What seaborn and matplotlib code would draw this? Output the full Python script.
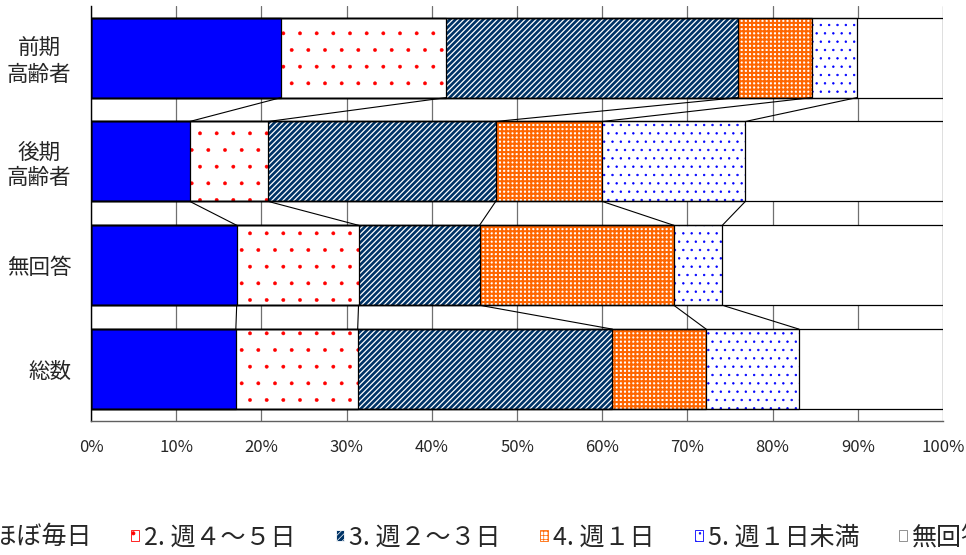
import numpy as np
import seaborn as sns
import matplotlib.pyplot as plt
from matplotlib.patches import Patch

# Datos (porcentaje por categoría)
categorias = ["前期\n高齢者", "後期\n高齢者", "無回答", "総数"]
s1 = [22.3, 11.6, 17.1, 17.0]   # 1. ほぼ毎日
s2 = [19.4, 9.2, 14.3, 14.3]    # 2. 週４～５日
s3 = [34.2, 26.7, 14.2, 29.9]   # 3. 週２～３日
s4 = [8.7, 12.5, 22.8, 11.0]    # 4. 週１日
s5 = [5.3, 16.8, 5.7, 10.9]     # 5. 週１日未満
s6 = [10.1, 23.2, 25.9, 16.9]   # 無回答
etiquetas = ["1. ほぼ毎日", "2. 週４～５日", "3. 週２～３日",
             "4. 週１日", "5. 週１日未満", "無回答"]
ticks_x = list(range(0, 101, 10))

series = [s1, s2, s3, s4, s5, s6]
cum = np.cumsum(np.array(series), axis=0)

# (relleno, color del patrón, patrón, grosor del patrón)
estilos = [("#0000FF", "#0000FF", None, 1.0),
           ("white", "#FF0000", ".", 0.3),
           ("#003366", "white", "//////", 0.9),
           ("white", "#FF6600", "++++", 1.5),
           ("white", "#0000FF", "..", 0.5),
           ("white", "white", None, 1.0)]

sns.set_style("white")
plt.rcParams["font.family"] = ["Noto Sans CJK JP", "DejaVu Sans"]

fig = plt.figure(figsize=(9.66, 5.55), dpi=100)
ax = fig.add_axes([0.0942, 0.2414, 0.882, 0.7483])
ancho = 0.77

# barras apiladas: se dibuja de la suma total hacia la primera serie
for k in range(5, -1, -1):
    face, hc, h, hlw = estilos[k]
    plt.rcParams["hatch.linewidth"] = hlw
    n_antes = len(ax.patches)
    sns.barplot(x=cum[k], y=categorias, orient="h", color=face, saturation=1,
                width=ancho, edgecolor=hc, linewidth=0, hatch=h, ax=ax)
    for p in ax.patches[n_antes:]:
        if hasattr(p, "set_hatch_linewidth"):
            p.set_hatch_linewidth(hlw)

# contornos negros de cada segmento
for k in range(6):
    sns.barplot(x=cum[k], y=categorias, orient="h", width=ancho,
                facecolor="none", edgecolor="black", linewidth=0.9, ax=ax)

# líneas de serie entre barras
for i in range(len(categorias) - 1):
    for k in range(5):
        ax.plot([cum[k][i], cum[k][i + 1]], [i + ancho / 2, i + 1 - ancho / 2],
                color="black", lw=0.8)

ax.set_xlim(0, 100)
ax.set_ylim(len(categorias) - 0.5, -0.5)
ax.set_xticks(ticks_x)
ax.set_xticklabels([f"{t}%" for t in ticks_x], fontsize=12)
ax.set_yticks(range(len(categorias)))
ax.set_yticklabels(categorias, fontsize=15.5, ha="right", multialignment="center")
ax.set_yticks(np.arange(-0.5, len(categorias), 1), minor=True)
ax.tick_params(axis="y", which="major", length=0, pad=14)
ax.tick_params(axis="y", which="minor", direction="in", length=6, width=0.8, color="black")
ax.tick_params(axis="x", length=0, pad=13)
ax.set_xlabel("")
ax.set_ylabel("")
ax.set_axisbelow(True)
ax.grid(axis="x", color="#707070", lw=0.9)
ax.grid(axis="y", visible=False)
for lado in ["top", "right"]:
    ax.spines[lado].set_visible(False)
ax.spines["left"].set_color("black")
ax.spines["left"].set_linewidth(1.0)
ax.spines["bottom"].set_color("#606060")
ax.spines["bottom"].set_linewidth(1.0)

plt.rcParams["hatch.linewidth"] = 0.5
handles = []
for face, hc, h, hlw in estilos:
    borde = "#808080" if h is None else hc
    handles.append(Patch(facecolor=face, edgecolor=borde, hatch=h, linewidth=0.6))
fig.legend(handles, etiquetas, loc="center", bbox_to_anchor=(0.486, 0.032),
           ncol=6, frameon=False, fontsize=18, handlelength=0.32, handleheight=0.32,
           handletextpad=0.2, columnspacing=1.6)

plt.savefig("out.png", dpi=100)
